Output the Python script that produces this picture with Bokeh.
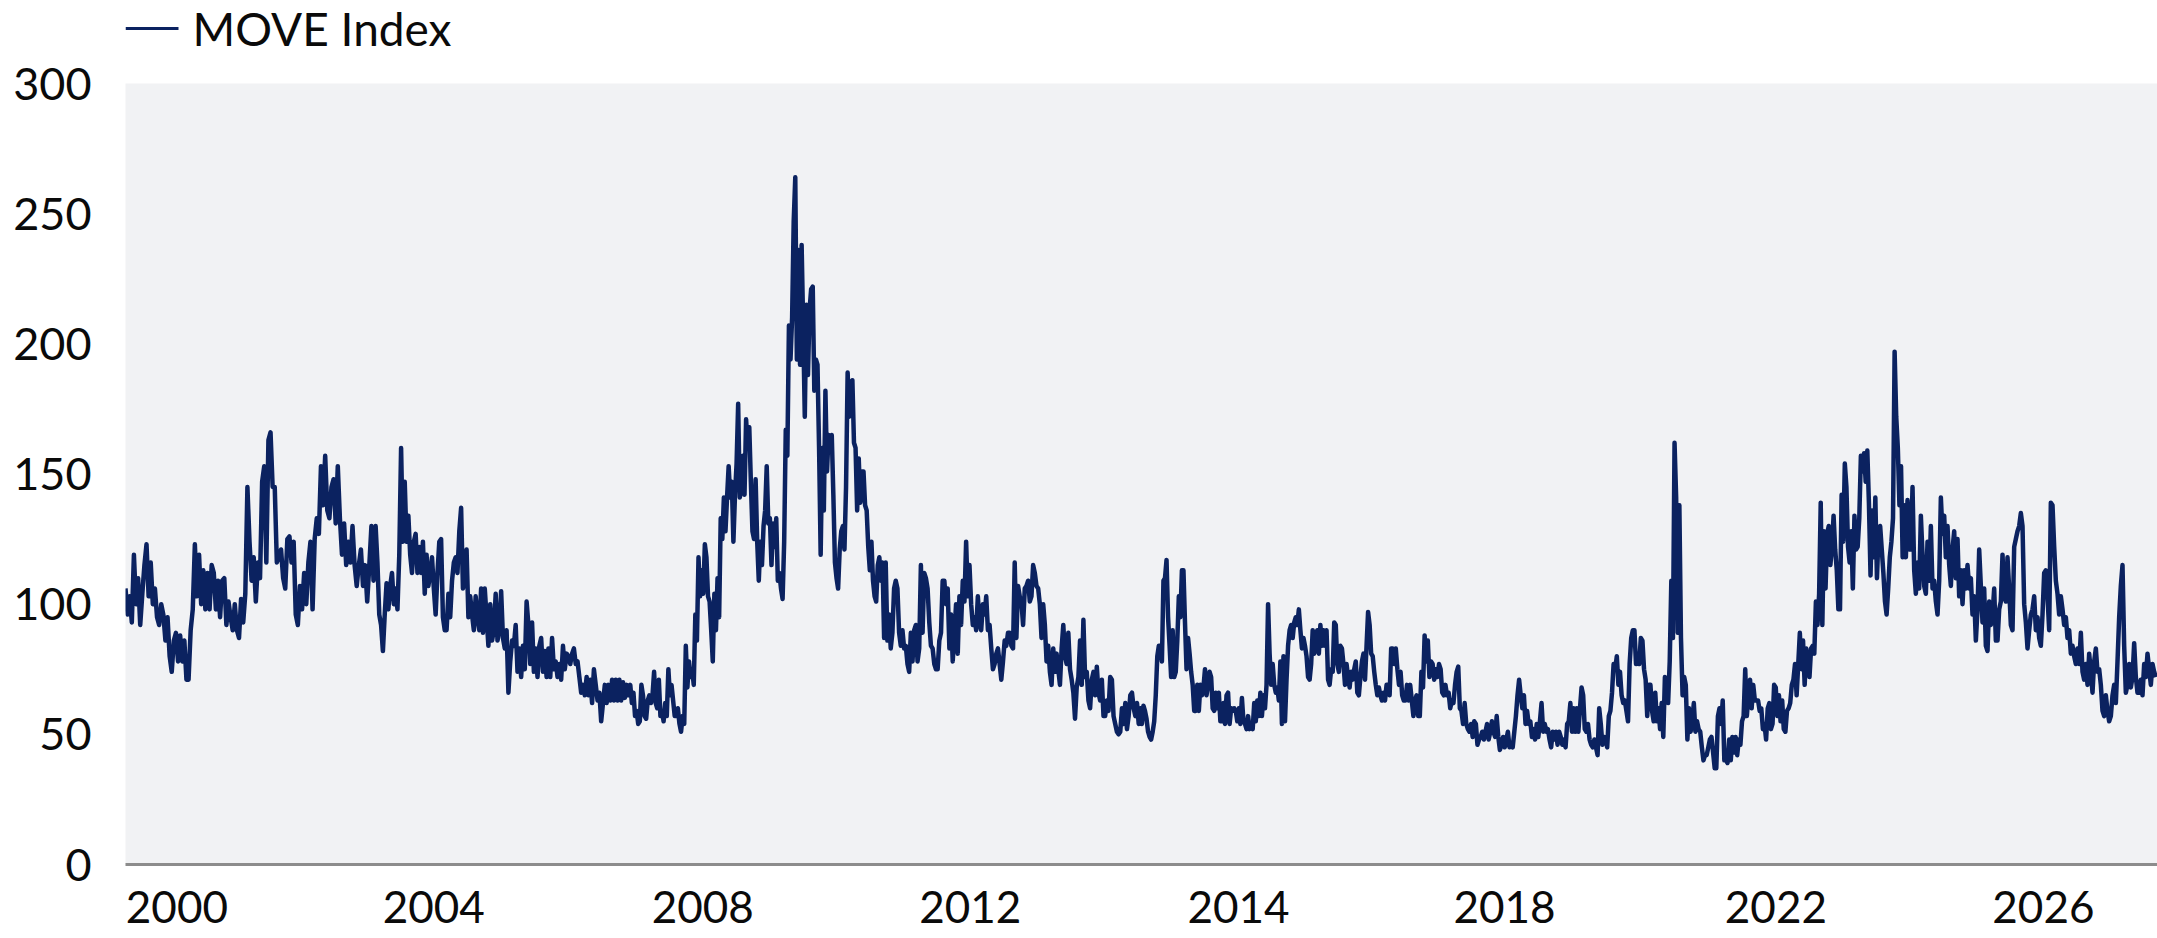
import numpy as np
from bokeh.plotting import figure
from bokeh.layouts import column
from bokeh.models import FixedTicker, Range1d
from bokeh.core.properties import value
from bokeh.embed import file_html
from bokeh.resources import INLINE

# Segment boundaries (decimal years) for the readings below
seg_bounds = [1999.82, 2003.13, 2006.50, 2009.88, 2013.25, 2016.63, 2020.00, 2023.38, 2026.71]

move_seg1 = [106,96,103,93,119,100,110,92,104,115,123,103,116,100,106,95,92,100,96,86,95,80,74,86,89,78,88,78,86,71,71,90,98,123,103,119,100,113,98,112,98,115,112,98,109,95,109,110,92,101,95,90,100,90,87,102,93,104,145,124,109,118,101,116,110,147,153,116,163,166,145,145,116,118,121,110,106,125,126,116,124,96,92,107,98,112,100,116,124,98,125,133,127,153,138,157,136,133,145,148,131,153,133,119,131,115,124,116,130,115,107,115,121,107,115,101,115,130,109]
move_seg2 = [130,116,96,92,82,96,108,98,107,112,100,106,98,119,160,124,147,124,134,119,112,124,127,112,122,112,124,104,119,107,112,118,106,96,112,124,125,95,90,90,104,95,109,116,118,112,128,137,106,109,121,95,103,96,90,103,95,90,106,89,106,95,84,100,86,90,104,86,90,105,87,83,90,66,78,86,84,92,74,83,72,84,75,101,92,77,93,74,83,72,84,87,74,82,72,83,72,87,75,78,72,77,71,84,75,81,80,77,81,83,77,78,72,66,69,65,72,65,71,62,75,69,63,66,55,62,69,62,69,63,71,63,71,63,71,63,70,64,69,65]
move_seg3 = [69,62,66,57,59,54,55,69,65,57,56,63,65,62,65,74,62,60,71,57,59,55,62,57,75,65,69,63,57,57,60,54,51,57,54,84,68,78,72,75,69,96,86,118,103,113,104,123,118,103,101,90,78,104,90,110,95,133,125,141,128,141,153,141,147,124,142,154,177,141,144,157,142,171,160,168,147,128,125,148,124,109,124,115,130,136,153,131,133,115,131,122,133,109,112,106,102,124,167,157,207,194,210,247,264,194,236,192,238,206,172,215,188,213,221,222,182,194,192,160,119,160,136,182,151,165,160,165,142,116,110,106,121,128,130,121,145,189,172,185,186,162,160,136,156,139,151,151,138,136,122,113,124,109,103,101,115,118,109,116,87]
move_seg4 = [116,86,96,83,89,106,109,106,89,84,90,83,84,77,74,89,78,90,92,78,83,115,89,112,110,106,93,84,83,77,75,75,86,89,109,109,100,106,83,96,78,89,100,81,103,92,109,101,124,103,115,100,92,95,90,103,93,90,100,96,103,90,92,83,75,77,81,83,77,71,78,86,84,89,89,84,83,116,87,107,103,101,92,106,107,109,101,103,115,112,107,106,100,87,100,92,78,84,74,69,83,74,81,75,69,83,92,80,77,89,75,71,66,56,68,72,86,69,94,72,74,63,60,71,74,65,76,66,63,71,57,57,63,59,72,71,57,54,51,50,51,60,54,62,52,57,65,66,60,57,62,54]
move_seg5 = [60,54,61,59,56,51,49,48,51,55,65,80,84,84,78,109,110,117,95,84,72,90,72,74,86,103,95,113,113,93,75,87,81,74,69,59,59,69,59,69,65,68,75,65,69,74,72,60,59,66,60,66,55,55,62,54,65,66,54,60,59,60,59,55,60,54,64,55,54,52,57,52,54,52,62,55,63,57,66,57,65,60,69,100,81,69,77,69,66,68,63,78,54,80,55,71,84,90,92,87,93,95,92,98,90,83,87,84,80,72,71,77,90,81,87,90,81,92,84,90,84,90,71,69,75,74,93,92,77,74,84,83,77,69,77,72,68,74,71,75,78,66,65,72,78,81,71,84,97,92,81,80,74,69,65,68,65,63,66,63,69,69,65,83,83,77]
move_seg6 = [83,75,69,74,65,63,63,69,63,69,63,57,63,65,57,57,74,68,88,78,86,72,78,77,71,75,72,77,75,66,65,69,65,66,60,63,62,69,74,76,60,59,54,62,54,52,51,54,49,55,54,46,48,49,51,48,51,54,48,51,55,51,49,57,49,44,46,49,45,48,51,45,46,45,51,57,65,71,65,60,65,54,59,54,55,49,52,48,54,49,55,62,51,54,51,52,48,45,51,48,51,46,51,49,46,48,45,54,55,62,51,60,51,60,51,60,68,65,52,51,54,48,46,45,48,45,42,60,54,46,49,48,45,57,59,66,77,75,80,69,74,65,62,63,59,55,77,87,90,90,77,81,77,87,86,75,71,57,69]
move_seg7 = [69,59,55,66,55,60,52,62,49,72,68,62,78,109,87,162,141,89,138,87,65,72,69,48,60,51,55,62,51,55,52,51,45,40,42,42,45,48,49,43,37,37,57,60,54,63,40,40,39,48,40,49,43,49,42,48,46,55,57,75,57,65,71,60,69,63,63,63,59,60,52,54,48,60,62,52,54,69,68,57,65,55,63,52,51,59,60,62,69,71,77,65,77,89,75,86,69,83,78,72,83,84,81,101,92,104,139,92,128,106,127,130,115,122,134,121,113,98,98,142,124,154,145,122,116,128,106,134,121,122,133,157,151,158,147,159,139,111,136,118,141,110,127,130,121,112,101,96,106,118,124,133,197,172,160,138,153,118,138]
move_seg8 = [118,140,121,121,145,113,104,116,106,134,119,107,104,124,109,130,106,109,101,96,109,141,127,134,118,130,115,107,121,128,110,125,103,113,100,113,106,115,106,110,96,103,86,98,121,107,93,106,84,82,101,92,96,106,86,86,98,101,119,103,101,118,106,92,90,122,125,128,130,135,130,100,93,83,90,96,98,103,90,95,87,84,96,112,113,103,90,139,138,122,109,104,96,103,98,92,95,87,90,81,84,80,77,83,77,89,74,71,77,69,81,74,66,78,83,74,75,69,59,57,65,59,55,57,65,69,62,78,95,107,115,84,66,69,77,68,72,85,72,66,66,71,65,77,72,81,75,69,77,74,72]

tick_pos = [2000.50, 2003.90, 2007.46, 2011.00, 2014.55, 2018.07, 2021.66, 2025.20]
tick_labels = ["2000", "2004", "2008", "2012", "2014", "2018", "2022", "2026"]
y_ticks = [0, 50, 100, 150, 200, 250, 300]
series_name = "MOVE Index"

segments = [move_seg1, move_seg2, move_seg3, move_seg4, move_seg5, move_seg6, move_seg7, move_seg8]
xs, ys = [], []
for i, seg in enumerate(segments):
    xs.extend(np.linspace(seg_bounds[i], seg_bounds[i + 1], len(seg), endpoint=False).tolist())
    ys.extend(seg)

NAVY = "#0B2260"
FONT = "Lato"
TXT = "#0A0A0A"
W = 2157
LEG_H = 57
LEFT = 125

# ---- legend strip on top (screen-like coordinates: x from page left, y from top) ----
leg = figure(width=W, height=LEG_H, x_range=Range1d(LEFT, W), y_range=Range1d(LEG_H, 0),
             output_backend="svg", toolbar_location=None,
             x_axis_type=None, y_axis_type=None,
             min_border_left=LEFT, min_border_right=0, min_border_top=0, min_border_bottom=0)
leg.outline_line_color = None
leg.background_fill_color = "white"
leg.border_fill_color = "white"
leg.grid.visible = False
leg.segment(x0=[LEFT], y0=[28], x1=[178], y1=[28], line_color=NAVY, line_width=3)
leg.text(x=[192], y=[28], text=[series_name], text_baseline="middle", text_align="left",
         text_font=value(FONT), text_font_size="46px", text_color=TXT)

# ---- main chart ----
p = figure(width=W, height=938 - LEG_H,
           x_range=Range1d(seg_bounds[0], seg_bounds[-1]), y_range=Range1d(0, 300),
           output_backend="svg", toolbar_location=None,
           min_border_left=LEFT, min_border_right=0, min_border_top=83 - LEG_H, min_border_bottom=74)
p.background_fill_color = "#F1F2F4"
p.border_fill_color = "white"
p.outline_line_color = None
p.grid.visible = False

p.line(xs, ys, line_color=NAVY, line_width=4.5, line_join="round")

p.xaxis.ticker = FixedTicker(ticks=tick_pos)
p.xaxis.major_label_overrides = {t: lab for t, lab in zip(tick_pos, tick_labels)}
p.xaxis.axis_line_color = "#8C8C8C"
p.xaxis.axis_line_width = 3
p.xaxis.major_tick_line_color = None
p.xaxis.minor_tick_line_color = None
p.xaxis.major_tick_out = 0
p.xaxis.major_label_standoff = 26
p.xaxis.major_label_text_font = FONT
p.xaxis.major_label_text_font_size = "44px"
p.xaxis.major_label_text_color = TXT

p.yaxis.ticker = FixedTicker(ticks=y_ticks)
p.yaxis.axis_line_color = None
p.yaxis.major_tick_line_color = None
p.yaxis.minor_tick_line_color = None
p.yaxis.major_tick_out = 0
p.yaxis.major_label_standoff = 34
p.yaxis.major_label_text_font = FONT
p.yaxis.major_label_text_font_size = "45px"
p.yaxis.major_label_text_color = TXT

page = column(leg, p, spacing=0)
open("out.html", "w").write(file_html(page, INLINE))
